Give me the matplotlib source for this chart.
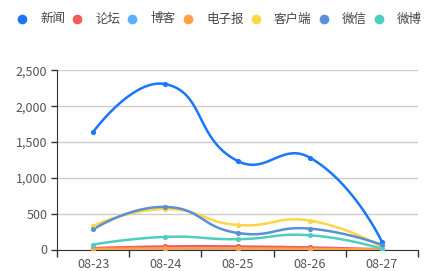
import numpy as np
import matplotlib
matplotlib.use('Agg')
import matplotlib.pyplot as plt

plt.rcParams['font.family'] = ['Noto Sans CJK SC', 'DejaVu Sans']

# данные
dates = ['08-23', '08-24', '08-25', '08-26', '08-27']
names = ['新闻', '论坛', '博客', '电子报', '客户端', '微信', '微博']
news = [1640, 2310, 1237, 1284, 110]
forum = [19, 42, 42, 28, 3]
blog = [3, 5, 5, 4, 1]
paper = [9, 14, 14, 9, 1]
client = [330, 565, 343, 403, 37]
wechat = [280, 595, 231, 292, 65]
weibo = [69, 176, 144, 199, 10]
series = [news, forum, blog, paper, client, wechat, weibo]
colors = ['#1A75FF', '#F05B5B', '#5AAEFF', '#FFA049', '#FFD447', '#5A8FD4', '#4ECDC0']

# размеры в пикселях на единицу, чтобы сглаживание было как в echarts
PX_X = 72.0
PX_Y = 180.0 / 2500


def smooth_curve(xs, ys, smooth=0.5, n=40):
    px = np.array(xs, float) * PX_X
    py = np.array(ys, float) * PX_Y
    m = len(px)
    cp_in = []
    cp_out = []
    for i in range(m):
        if i == 0 or i == m - 1:
            cp_in.append((px[i], py[i]))
            cp_out.append((px[i], py[i]))
            continue
        vx = px[i + 1] - px[i - 1]
        vy = py[i + 1] - py[i - 1]
        d0 = np.hypot(px[i] - px[i - 1], py[i] - py[i - 1])
        d1 = np.hypot(px[i + 1] - px[i], py[i + 1] - py[i])
        r = d1 / (d0 + d1)
        cp_in.append((px[i] - vx * smooth * (1 - r), py[i] - vy * smooth * (1 - r)))
        cp_out.append((px[i] + vx * smooth * r, py[i] + vy * smooth * r))
    out_x, out_y = [], []
    t = np.linspace(0, 1, n)
    for i in range(m - 1):
        p0 = np.array([px[i], py[i]])
        p1 = np.array(cp_out[i])
        p2 = np.array(cp_in[i + 1])
        p3 = np.array([px[i + 1], py[i + 1]])
        b = ((1 - t) ** 3)[:, None] * p0 + (3 * (1 - t) ** 2 * t)[:, None] * p1 \
            + (3 * (1 - t) * t ** 2)[:, None] * p2 + (t ** 3)[:, None] * p3
        out_x.extend(b[:, 0])
        out_y.extend(b[:, 1])
    return np.array(out_x) / PX_X, np.array(out_y) / PX_Y


fig = plt.figure(figsize=(4.44, 2.71), dpi=100)
ax = fig.add_axes([57 / 444, 21.5 / 271, 361 / 444, 179 / 271])

x = np.arange(len(dates))
for vals, c in zip(series, colors):
    sx, sy = smooth_curve(x, vals)
    ax.plot(sx, sy, color=c, lw=1.8, solid_capstyle='round', zorder=3)
    ax.scatter(x, vals, s=14, color=c, zorder=4, linewidths=0)

ax.set_xlim(-0.5, len(dates) - 0.5)
ax.set_ylim(0, 2500)
ax.set_yticks(range(0, 2501, 500))
ax.set_yticklabels([f'{v:,}' for v in range(0, 2501, 500)])
ax.set_xticks(x)
ax.set_xticklabels(dates)
ax.set_xticks(np.arange(len(dates) + 1) - 0.5, minor=True)
ax.tick_params(axis='x', which='major', length=0, pad=6, labelsize=9, labelcolor='#555555')
ax.tick_params(axis='x', which='minor', length=5, width=1, color='#333333')
ax.tick_params(axis='y', length=4, width=1, color='#333333', pad=3, labelsize=9, labelcolor='#555555')

ax.grid(axis='y', color='#cccccc', lw=1)
ax.set_axisbelow(True)
for s in ['top', 'right']:
    ax.spines[s].set_visible(False)
ax.spines['left'].set_color('#333333')
ax.spines['bottom'].set_color('#333333')

# легенда вручную
leg_x = [22, 77, 132, 188, 256, 324, 379]
leg_y = 1 - 19 / 271
for lx, name, c in zip(leg_x, names, colors):
    fig.add_artist(plt.Line2D([lx / 444], [leg_y], marker='o', markersize=7,
                              color=c, markeredgewidth=0, transform=fig.transFigure))
    fig.text((lx + 18) / 444, leg_y, name, fontsize=9, color='#444444',
             va='center', ha='left')

fig.savefig('out.png', dpi=100)
